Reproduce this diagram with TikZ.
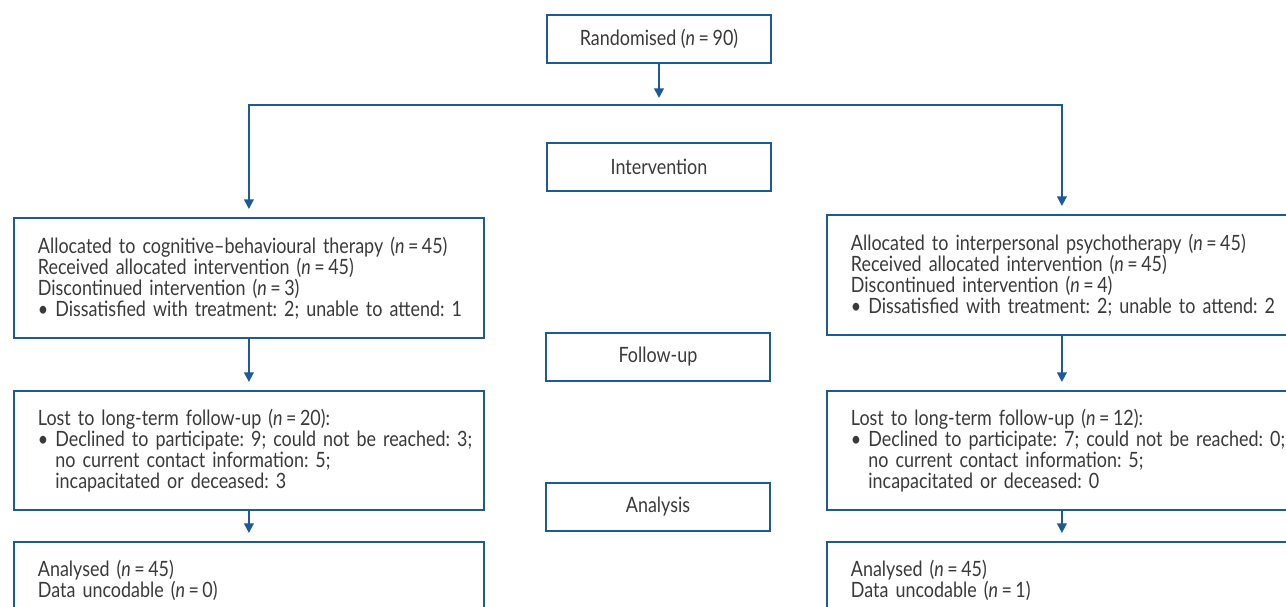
\documentclass[tikz,border=0pt]{standalone}
\usepackage{fontspec}
\setmainfont{Lato}[FakeStretch=0.85]
\usetikzlibrary{arrows.meta}
\definecolor{Flow}{HTML}{1D5A96}
\definecolor{Ink}{HTML}{3A3A3A}
\newcommand{\ncount}[1]{(\textit{n}\,=\,#1)}
\frenchspacing

\begin{document}
\begin{tikzpicture}[x=0.02cm,y=-0.02cm,font=\fontsize{12}{12}\selectfont,
    every node/.style={text=Ink},
    stage/.style={draw=Flow,line width=1.1pt,minimum width=4.48cm,
      minimum height=0.96cm,inner sep=0pt},
    arm/.style={draw=Flow,line width=1.1pt,anchor=north west,align=left,
      text width=9.4cm,inner xsep=0pt,inner ysep=0pt,minimum width=9.4cm,
      execute at begin node={\leftskip=0.48cm}},
    flow/.style={draw=Flow,line width=1.1pt,
      -{Triangle[length=5.5pt,width=5.5pt]},shorten >=0.16cm}]
    \useasboundingbox (0,0) rectangle (1286,607);
    % phase boxes down the middle
    \node[stage] (rand)   at (659,39)  {Randomised \ncount{90}};
    \node[stage] (interv) at (659,167) {Intervention};
    \node[stage] (follow) at (658,357) {Follow-up};
    \node[stage] (analy)  at (658,507) {Analysis};
    % left arm
    \node[arm,minimum height=2.4cm] (cbtA) at (13,217) {%
      Allocated to cognitive--behavioural therapy \ncount{45}\\
      Received allocated intervention \ncount{45}\\
      Discontinued intervention \ncount{3}\\
      \textbullet\ Dissatisfied with treatment: 2; unable to attend: 1};
    \node[arm,minimum height=2.38cm] (cbtB) at (13,390) {%
      Lost to long-term follow-up \ncount{20}:\\
      \textbullet\ Declined to participate: 9; could not be reached: 3;\\
      \hphantom{\textbullet}\ no current contact information: 5;\\
      \hphantom{\textbullet}\ incapacitated or deceased: 3};
    \node[arm,minimum height=1.52cm] (cbtC) at (13,541) {%
      Analysed \ncount{45}\\
      Data uncodable \ncount{0}};
    % right arm
    \node[arm,minimum height=2.4cm] (iptA) at (826,214) {%
      Allocated to interpersonal psychotherapy \ncount{45}\\
      Received allocated intervention \ncount{45}\\
      Discontinued intervention \ncount{4}\\
      \textbullet\ Dissatisfied with treatment: 2; unable to attend: 2};
    \node[arm,minimum height=2.38cm] (iptB) at (826,390) {%
      Lost to long-term follow-up \ncount{12}:\\
      \textbullet\ Declined to participate: 7; could not be reached: 0;\\
      \hphantom{\textbullet}\ no current contact information: 5;\\
      \hphantom{\textbullet}\ incapacitated or deceased: 0};
    \node[arm,minimum height=1.52cm] (iptC) at (826,541) {%
      Analysed \ncount{45}\\
      Data uncodable \ncount{1}};
    % connectors
    \coordinate (split) at (659,105);
    \draw[flow,shorten >=0.14cm] (rand) -- (split);
    \draw[flow] (split) -| (cbtA);
    \draw[flow] (split) -| (iptA);
    \draw[flow] (cbtA) -- (cbtB);
    \draw[flow] (cbtB) -- (cbtC);
    \draw[flow] (iptA) -- (iptB);
    \draw[flow] (iptB) -- (iptC);
  \end{tikzpicture}
\end{document}
